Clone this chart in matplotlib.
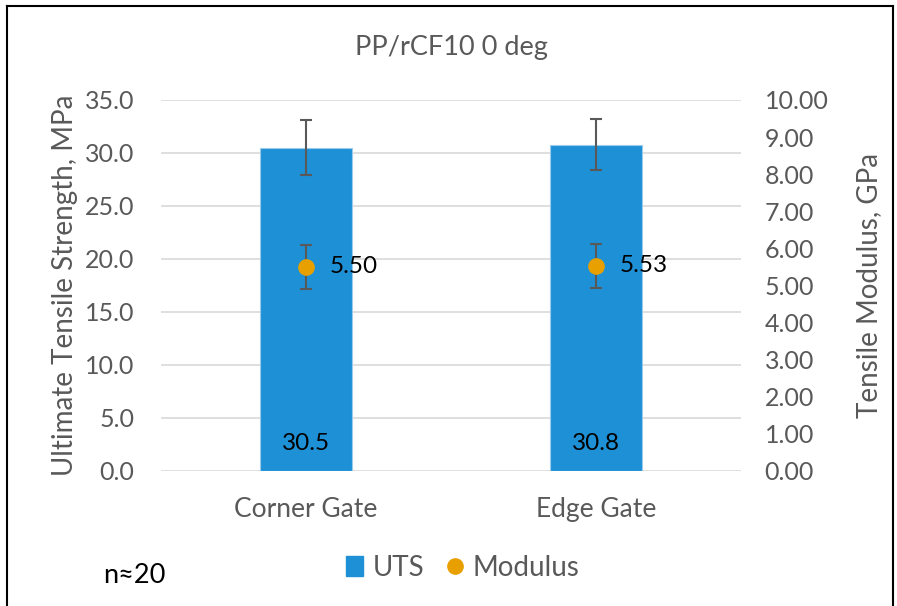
import numpy as np
import matplotlib.pyplot as plt
from matplotlib.lines import Line2D
from matplotlib.patches import Patch

plt.rcParams['font.family'] = ['Lato', 'DejaVu Sans']

# Datos
categorias = ["Corner Gate", "Edge Gate"]
uts = [30.5, 30.8]
uts_err = [2.6, 2.45]
modulo = [5.50, 5.53]
modulo_err = [0.6, 0.6]

gris = "#595959"
azul = "#1E90D6"
naranja = "#E8A000"

fig = plt.figure(figsize=(8.97, 6.06), dpi=100)
ax = fig.add_axes([0.1795, 0.2228, 0.6466, 0.6122])
ax2 = ax.twinx()

x = np.arange(len(categorias))
ax.bar(x, uts, width=0.314, color=azul, edgecolor="#9CCBEA", linewidth=0.8, zorder=2)
ax.errorbar(x, uts, yerr=uts_err, fmt="none", ecolor=gris, elinewidth=1.5, capsize=4.3, capthick=1.5, zorder=3)
for xi, v in zip(x, uts):
    ax.text(xi, 2.6, f"{v:.1f}", ha="center", va="center", fontsize=17.5, color="black", zorder=4)

ax2.errorbar(x, modulo, yerr=modulo_err, fmt="o", color=naranja, markersize=11, ecolor=gris,
             elinewidth=1.5, capsize=4.3, capthick=1.5, zorder=5)
for xi, v in zip(x, modulo):
    ax2.annotate(f"{v:.2f}", (xi, v), xytext=(17, 0), textcoords="offset points",
                 ha="left", va="center", fontsize=17.5, color="black")

ax.set_xlim(-0.5, 1.5)
ax.set_ylim(0, 35)
ax.set_yticks(np.arange(0, 35.1, 5))
ax.set_yticklabels([f"{t:.1f}" for t in np.arange(0, 35.1, 5)])
ax2.set_ylim(0, 10)
ax2.set_yticks(np.arange(0, 10.1, 1))
ax2.set_yticklabels([f"{t:.2f}" for t in np.arange(0, 10.1, 1)])

ax.set_xticks(x)
ax.set_xticklabels(categorias)
ax.grid(axis="y", color="#D9D9D9", linewidth=1.2, zorder=0)
ax.set_axisbelow(True)
for a in (ax, ax2):
    for s in a.spines.values():
        s.set_visible(False)
ax.tick_params(axis="y", length=0, pad=19, labelsize=18, labelcolor=gris)
ax.tick_params(axis="x", length=0, pad=19, labelsize=19, labelcolor=gris)
ax2.tick_params(axis="y", length=0, pad=17, labelsize=18, labelcolor=gris)

fig.text(0.5 * (0.1795 + 0.826), 0.922, "PP/rCF10 0 deg", ha="center", va="center", fontsize=19.5, color=gris)
fig.text(0.073, 0.5 * (0.2228 + 0.835), "Ultimate Tensile Strength, MPa", rotation=90,
         ha="center", va="center", fontsize=20, color=gris)
fig.text(0.969, 0.5 * (0.2228 + 0.835), "Tensile Modulus, GPa", rotation=90,
         ha="center", va="center", fontsize=20, color=gris)
fig.text(0.115, 0.05, "n\u224820", ha="left", va="center", fontsize=19.5, color="black")

handles = [Patch(facecolor=azul, edgecolor=azul),
           Line2D([], [], marker="o", linestyle="none", color=naranja, markersize=11)]
fig.legend(handles, ["UTS", "Modulus"], loc="center", bbox_to_anchor=(0.516, 0.063), ncol=2,
           frameon=False, fontsize=20, labelcolor=gris, handlelength=0.6, handletextpad=0.35,
           columnspacing=0.8)

# marco de la figura
fig.add_artist(Line2D([0.008, 0.008], [0, 0.99], color="black", linewidth=1.5))
fig.add_artist(Line2D([0.008, 0.996], [0.99, 0.99], color="black", linewidth=1.5))
fig.add_artist(Line2D([0.996, 0.996], [0, 0.99], color="black", linewidth=1.5))

fig.savefig("out.png", dpi=100)
